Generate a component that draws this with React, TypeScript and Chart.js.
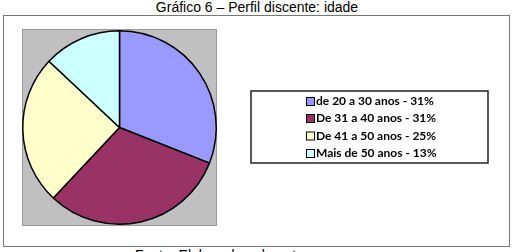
import React, { useEffect, useRef } from "react";
import { Chart, registerables } from "chart.js";

Chart.register(...registerables);

const categories = [
  "de 20 a 30 anos - 31%",
  "De 31 a 40 anos - 31%",
  "De 41 a 50 anos - 25%",
  "Mais de 50 anos - 13%",
];
const values = [31, 31, 25, 13];
const colors = ["#9999FF", "#993366", "#FFFFCC", "#CCFFFF"];

const titleText = "Gráfico 6 – Perfil discente: idade";
const sourceText = "Fonte: Elaborado pelo autor";

const plotBgPlugin = {
  id: "plotBg",
  beforeDatasetsDraw(chart: any) {
    const { ctx, chartArea } = chart;
    ctx.save();
    ctx.fillStyle = "#C0C0C0";
    ctx.fillRect(chartArea.left, chartArea.top, chartArea.right - chartArea.left, chartArea.bottom - chartArea.top);
    ctx.strokeStyle = "#9A9A9A";
    ctx.lineWidth = 1;
    ctx.strokeRect(chartArea.left + 0.5, chartArea.top + 0.5, chartArea.right - chartArea.left - 1, chartArea.bottom - chartArea.top - 1);
    ctx.restore();
  },
};

const boxLegendPlugin = {
  id: "boxLegend",
  afterDraw(chart: any) {
    const { ctx } = chart;
    const labels: string[] = chart.data.labels;
    const bg: string[] = chart.data.datasets[0].backgroundColor;
    const bx = 247, by = 75, bw = 237, bh = 72;
    ctx.save();
    ctx.fillStyle = "#FFFFFF";
    ctx.fillRect(bx, by, bw, bh);
    ctx.strokeStyle = "#222222";
    ctx.lineWidth = 1.5;
    ctx.strokeRect(bx, by, bw, bh);
    ctx.font = "bold 12px Lato, 'Open Sans', sans-serif";
    ctx.textBaseline = "middle";
    ctx.textAlign = "left";
    const rowY = [85.5, 102.5, 120, 137.5];
    labels.forEach((lab, i) => {
      const y = rowY[i];
      ctx.fillStyle = bg[i];
      ctx.fillRect(302.5, y - 4, 8, 8);
      ctx.strokeStyle = "#000000";
      ctx.lineWidth = 1;
      ctx.strokeRect(302.5, y - 4, 8, 8);
      ctx.fillStyle = "#000000";
      ctx.fillText(lab, 312, y);
    });
    ctx.restore();
  },
};

export default function App() {
  const canvasRef = useRef<HTMLCanvasElement | null>(null);

  useEffect(() => {
    const canvas = canvasRef.current;
    if (!canvas) return;
    const chart = new Chart(canvas, {
      type: "pie",
      data: {
        labels: categories,
        datasets: [
          {
            data: values,
            backgroundColor: colors,
            borderColor: "#000000",
            borderWidth: 1.5,
          },
        ],
      },
      options: {
        animation: false,
        responsive: false,
        maintainAspectRatio: false,
        rotation: 0,
        layout: { padding: { left: 18, top: 13, right: 292, bottom: 20 } },
        plugins: {
          legend: { display: false },
          tooltip: { enabled: false },
          title: { display: false },
        },
      },
      plugins: [plotBgPlugin, boxLegendPlugin],
    });
    return () => chart.destroy();
  }, []);

  return (
    <div
      style={{
        position: "fixed",
        left: 0,
        top: 0,
        width: 514,
        height: 252,
        background: "#FFFFFF",
        overflow: "hidden",
        fontFamily: "'Liberation Sans', Arial, sans-serif",
      }}
    >
      <div
        style={{
          position: "absolute",
          left: 0,
          top: -1,
          width: 514,
          textAlign: "center",
          fontSize: 14,
          lineHeight: "16px",
          color: "#000",
        }}
      >
        {titleText}
      </div>
      <div
        style={{
          position: "absolute",
          left: 3,
          top: 15,
          width: 505,
          height: 230,
          border: "1px solid #777777",
        }}
      />
      <canvas
        ref={canvasRef}
        width={505}
        height={230}
        style={{ position: "absolute", left: 4, top: 16, width: 505, height: 230 }}
      />
      <div
        style={{
          position: "absolute",
          left: 135,
          top: 247,
          fontSize: 14,
          lineHeight: "16px",
          color: "#000",
          whiteSpace: "nowrap",
        }}
      >
        {sourceText}
      </div>
    </div>
  );
}
